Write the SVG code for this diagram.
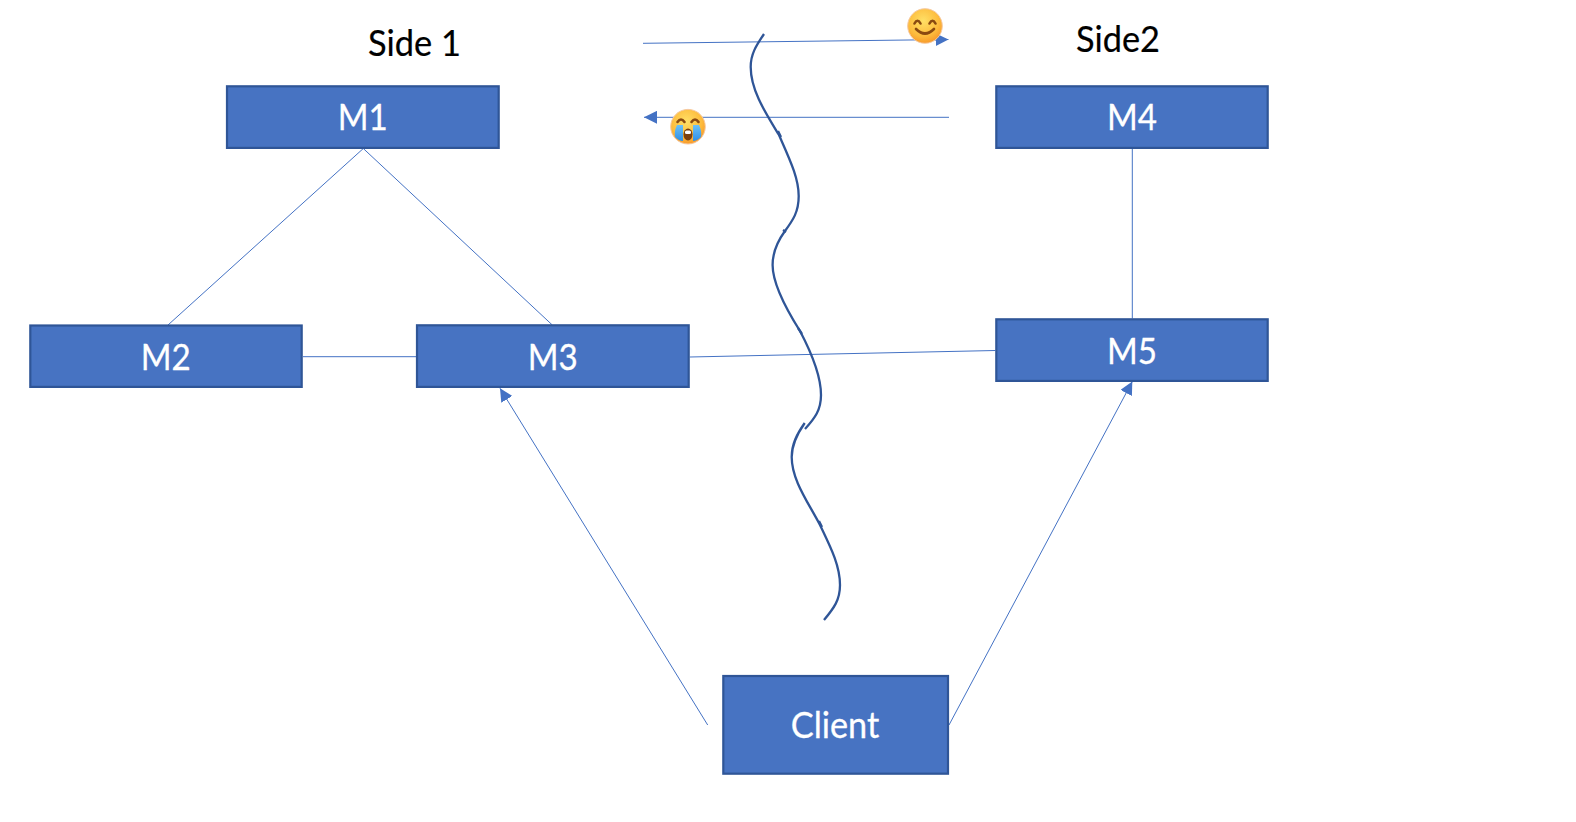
<svg xmlns="http://www.w3.org/2000/svg" width="1576" height="822" viewBox="0 0 1576 822">
  <style>
    .box { fill: #4773c2; stroke: #2f5597; stroke-width: 2.2; }
    .lbl { font-family: "Lato", "Open Sans", sans-serif; font-size: 36.5px; fill: #ffffff; text-anchor: middle; stroke: #ffffff; stroke-width: 0.3; }
    .side { font-family: "Lato", "Open Sans", sans-serif; font-size: 36px; fill: #000000; stroke: #000000; stroke-width: 0.2; }
    .conn { fill: none; stroke: #4472c4; stroke-width: 1; }
    .wave { fill: none; stroke: #2f5597; stroke-width: 2.3; }
    .face { stroke: #f6c9a0; stroke-width: 1; }
    .feat { fill: none; stroke: #8a4a10; stroke-width: 2.6; stroke-linecap: round; }
  </style>
  <defs>
    <marker id="arrow" markerUnits="userSpaceOnUse" markerWidth="13" markerHeight="13" refX="13" refY="6.5" orient="auto">
      <path d="M0 0L13 6.5L0 13Z" fill="#4472c4"/>
    </marker>
    <radialGradient id="skin" cx="0.45" cy="0.35" r="0.75">
      <stop offset="0" stop-color="#ffe066"/>
      <stop offset="0.6" stop-color="#fdbb3c"/>
      <stop offset="1" stop-color="#f58a22"/>
    </radialGradient>
    <linearGradient id="tear" x1="0" y1="0" x2="0" y2="1">
      <stop offset="0" stop-color="#6ec1f5"/>
      <stop offset="1" stop-color="#2f8fe6"/>
    </linearGradient>
  </defs>

  <g id="connectors">
    <line class="conn" x1="363.3" y1="148.5" x2="168" y2="325"/>
    <line class="conn" x1="363.3" y1="148.5" x2="552.3" y2="325"/>
    <line class="conn" x1="303" y1="356.7" x2="416" y2="356.7"/>
    <line class="conn" x1="689.7" y1="357" x2="995.3" y2="350.5"/>
    <line class="conn" x1="1132.3" y1="148.5" x2="1132.3" y2="318.5"/>
    <line class="conn" x1="707.7" y1="725" x2="500" y2="388.3" marker-end="url(#arrow)"/>
    <line class="conn" x1="949" y1="725" x2="1132.3" y2="381.5" marker-end="url(#arrow)"/>
    <line class="conn" x1="643" y1="43.3" x2="948.5" y2="39.5" marker-end="url(#arrow)"/>
    <line class="conn" x1="949" y1="117.3" x2="644" y2="117.3" marker-end="url(#arrow)"/>
  </g>

  <g id="partition">
    <path class="wave" d="M764 34C756 46 750.7 54 750.7 67C750.7 90 765 112 779 135C790 160 798.7 178 798.7 196C798.7 212 793 220 785 231C777 242 772.6 252 772.6 265C772.6 285 788 312 800 331C810 350 821 375 821 395C821 410 815 418 805 429"/>
    <path class="wave" d="M804.7 423C797 434 791.7 444 791.7 457C791.7 480 808 502 820 525C830 546 840 565 840 585C840 600 834 608 824 620"/>
    <path class="wave" d="M778 131L781 137M783 230L786 232M798 328L802 334M819 521L822 527"/>
  </g>

  <g id="side1"><text class="side" x="368" y="55.7" textLength="93" lengthAdjust="spacingAndGlyphs">Side 1</text></g>
  <g id="side2"><text class="side" x="1076" y="51.7" textLength="84" lengthAdjust="spacingAndGlyphs">Side2</text></g>

  <g id="m1"><rect class="box" x="227" y="86.3" width="271.7" height="61.6"/><text class="lbl" x="362.7" y="130" textLength="50" lengthAdjust="spacingAndGlyphs">M1</text></g>
  <g id="m2"><rect class="box" x="30.3" y="325.5" width="271.4" height="61.4"/><text class="lbl" x="165.7" y="370" textLength="50" lengthAdjust="spacingAndGlyphs">M2</text></g>
  <g id="m3"><rect class="box" x="417" y="325.3" width="271.7" height="61.6"/><text class="lbl" x="552.7" y="370" textLength="50" lengthAdjust="spacingAndGlyphs">M3</text></g>
  <g id="m4"><rect class="box" x="996.3" y="86.3" width="271.4" height="61.6"/><text class="lbl" x="1132" y="130" textLength="50" lengthAdjust="spacingAndGlyphs">M4</text></g>
  <g id="m5"><rect class="box" x="996.3" y="319.3" width="271.4" height="61.6"/><text class="lbl" x="1132" y="364" textLength="50" lengthAdjust="spacingAndGlyphs">M5</text></g>
  <g id="client"><rect class="box" x="723.3" y="676" width="224.7" height="97.7"/><text class="lbl" x="835" y="737.7" textLength="88.5" lengthAdjust="spacingAndGlyphs">Client</text></g>

  <g id="smile">
    <circle class="face" cx="925" cy="26" r="17.3" fill="url(#skin)"/>
    <path class="feat" d="M914.5 23.5Q917.5 18 920.5 23.5M929.5 23.5Q932.5 18 935.5 23.5"/>
    <path class="feat" d="M916 29Q925 38 934 29"/>
  </g>
  <g id="cry">
    <circle class="face" cx="688" cy="126.7" r="17.3" fill="url(#skin)"/>
    <path class="feat" d="M677.5 122Q681 117 684.5 122M691.5 122Q695 117 698.5 122" stroke-width="2"/>
    <path d="M677 125H683V141Q679 141 675 137Q674 131 677 125Z M693 125H699Q702 131 701 137Q697 141 693 141Z" fill="url(#tear)"/>
    <ellipse cx="688" cy="134.5" rx="4.5" ry="6" fill="#7a3f0e"/>
    <rect x="685" y="130.5" width="6" height="3.5" rx="1.5" fill="#ffffff"/>
  </g>
</svg>
